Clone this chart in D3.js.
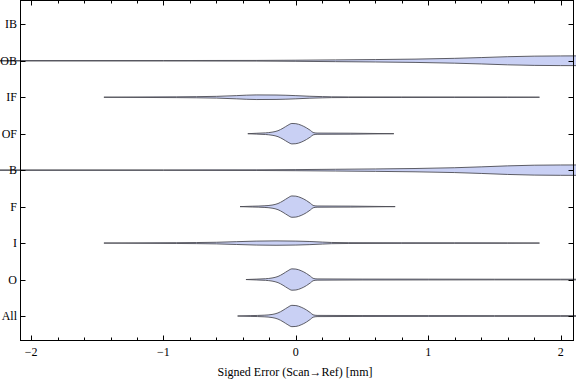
<!DOCTYPE html>
<html><head><meta charset="utf-8">
<script src="https://cdn.jsdelivr.net/npm/d3@7/dist/d3.min.js"></script>
<style>body{margin:0;background:#fff}svg{display:block}text{font-family:"Liberation Serif","Times New Roman",serif;fill:#000}</style>
</head><body><svg id="c" width="576" height="381"></svg>
<script>
// ---- data ----
const categories = ["IB","OB","IF","OF","B","F","I","O","All"];
const xTicks = [-2,-1,0,1,2];
const xMinorStep = 0.2;
const xTitle = "Signed Error (Scan\u2192Ref) [mm]";

// violin profiles: sample values and relative density (half width)
const obValues  = [-2.4,-1.0,-0.3,0,0.3,0.6,0.9,1.2,1.4,1.6,1.8,2.0,2.4];
const obDensity = [0.02,0.02,0.03,0.05,0.08,0.11,0.15,0.22,0.29,0.37,0.42,0.44,0.45];
const bValues   = [-2.4,-1.0,-0.3,0,0.3,0.6,0.9,1.2,1.4,1.6,1.8,2.0,2.4];
const bDensity  = [0.02,0.02,0.03,0.05,0.08,0.11,0.15,0.22,0.30,0.39,0.45,0.47,0.48];
const ifValues  = [-1.45,-1.2,-0.9,-0.6,-0.45,-0.3,-0.15,0,0.1,0.2,0.27,0.4,0.8,1.2,1.6,1.84];
const ifDensity = [0,0.018,0.036,0.08,0.145,0.21,0.2,0.145,0.09,0.055,0.036,0.027,0.023,0.018,0.014,0];
const iValues   = [-1.45,-1.2,-0.9,-0.6,-0.45,-0.3,-0.15,0,0.1,0.2,0.27,0.4,0.8,1.2,1.6,1.84];
const iDensity  = [0,0.018,0.036,0.073,0.127,0.18,0.2,0.18,0.145,0.09,0.055,0.036,0.027,0.023,0.018,0];
const ofValues  = [-0.363,-0.30,-0.23,-0.18,-0.135,-0.097,-0.06,-0.03,0,0.04,0.08,0.11,0.13,0.16,0.41,0.74];
const ofDensity = [0,0.036,0.073,0.14,0.27,0.5,0.77,0.93,0.91,0.77,0.53,0.3,0.11,0.055,0.045,0];
const fValues   = [-0.422,-0.33,-0.24,-0.18,-0.135,-0.097,-0.06,-0.03,0,0.04,0.08,0.11,0.13,0.16,0.41,0.75];
const fDensity  = [0,0.036,0.073,0.14,0.28,0.52,0.8,0.97,0.95,0.8,0.55,0.3,0.11,0.055,0.045,0];
const oValues   = [-0.377,-0.30,-0.23,-0.18,-0.135,-0.097,-0.06,-0.03,0,0.04,0.08,0.11,0.13,0.16,0.5,1.0,1.5,2.0,2.5];
const oDensity  = [0,0.036,0.073,0.14,0.28,0.52,0.8,0.97,0.95,0.8,0.55,0.3,0.11,0.055,0.04,0.035,0.03,0.03,0.03];
const allValues = [-0.44,-0.34,-0.24,-0.18,-0.135,-0.097,-0.06,-0.03,0,0.04,0.08,0.11,0.13,0.16,0.5,1.0,1.5,2.0,2.5];
const allDensity= [0,0.036,0.073,0.14,0.28,0.52,0.8,0.97,0.95,0.8,0.55,0.3,0.11,0.055,0.04,0.035,0.03,0.03,0.03];

const violins = [
  {cat:"OB", v:obValues, d:obDensity},
  {cat:"IF", v:ifValues, d:ifDensity},
  {cat:"OF", v:ofValues, d:ofDensity},
  {cat:"B",  v:bValues,  d:bDensity},
  {cat:"F",  v:fValues,  d:fDensity},
  {cat:"I",  v:iValues,  d:iDensity},
  {cat:"O",  v:oValues,  d:oDensity},
  {cat:"All",v:allValues,d:allDensity}
];

// ---- layout ----
const L = 20.5, R = 573.5, T = 0.5, B = 340.5;
const svg = d3.select("#c");
const x = d3.scaleLinear().domain([-2.080, 2.097]).range([L, R]);
const y = d3.scalePoint().domain(categories).range([24.3, 316]);
const w = d3.scaleLinear().domain([0,1]).range([0,11]);

// violins
violins.forEach(vi => {
  const pts = vi.v.map((v,i)=>({v, d:vi.d[i]}));
  const yc = y(vi.cat);
  const area = d3.area()
    .x(p=>x(p.v)).y0(p=>yc - w(p.d)).y1(p=>yc + w(p.d))
    .curve(d3.curveMonotoneX);
  svg.append("path").attr("d", area(pts))
    .attr("fill","#c9d0f4").attr("stroke","#4d4d55").attr("stroke-width",0.9)
    .attr("stroke-linejoin","round");
});

// frame
const g = svg.append("g").attr("stroke","#000").attr("stroke-width",1).attr("fill","none");
g.append("rect").attr("x",L).attr("y",T).attr("width",R-L).attr("height",B-T);

// x ticks
const minor = d3.range(-2.0, 2.0001, xMinorStep).filter(v => !xTicks.some(t=>Math.abs(t-v)<1e-6));
xTicks.forEach(t=>{
  const px = Math.round(x(t))+0.5;
  g.append("line").attr("x1",px).attr("x2",px).attr("y1",B).attr("y2",B-5);
  g.append("line").attr("x1",px).attr("x2",px).attr("y1",T).attr("y2",T+5);
});
minor.forEach(t=>{
  const px = Math.round(x(t))+0.5;
  g.append("line").attr("x1",px).attr("x2",px).attr("y1",B).attr("y2",B-3);
  g.append("line").attr("x1",px).attr("x2",px).attr("y1",T).attr("y2",T+3);
});
// y ticks
categories.forEach(c=>{
  const py = Math.round(y(c))+0.5;
  g.append("line").attr("x1",L).attr("x2",L+5).attr("y1",py).attr("y2",py);
  g.append("line").attr("x1",R).attr("x2",R-5).attr("y1",py).attr("y2",py);
});

// labels
const fmt = t => t<0 ? "\u2212" + Math.abs(t) : String(t);
svg.selectAll("text.xt").data(xTicks).enter().append("text")
  .attr("x", t=>x(t)).attr("y", 356).attr("text-anchor","middle")
  .attr("font-size",12).text(fmt);
svg.selectAll("text.yt").data(categories).enter().append("text")
  .attr("x", 17).attr("y", c=>y(c)+4).attr("text-anchor","end")
  .attr("font-size",12).text(c=>c);
svg.append("text").attr("x", 295).attr("y", 376).attr("text-anchor","middle")
  .attr("font-size",12).text(xTitle);
</script></body></html>
